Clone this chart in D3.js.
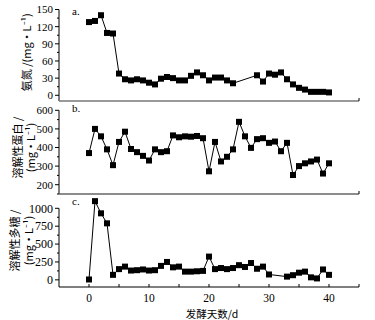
<!DOCTYPE html>
<html>
<head>
<meta charset="utf-8">
<script src="https://cdn.jsdelivr.net/npm/d3@7"></script>
<style>
  body { margin: 0; background: #fff; }
  svg { display: block; }
  text { font-family: "Liberation Serif", "DejaVu Serif", serif; fill: #000; }
  .cjk { font-family: "Noto Sans CJK SC", sans-serif; }
</style>
</head>
<body>
<script>
// fermentation days for each series (gaps = days not sampled)
const daysA = [0,1,2,3,4,5,6,7,8,9,10,11,12,13,14,15,16,17,18,19,20,21,22,23,24,28,29,30,31,32,33,34,35,36,37,38,39,40];
const ammonia = [128,130,140,109,108,38,28,26,28,26,22,19,29,32,30,26,26,34,40,35,26,31,31,26,21,35,24,38,36,40,28,19,13,10,6,6,6,5];

const daysB = d3.range(0, 41);
const protein = [370,500,460,390,305,430,485,392,375,355,330,390,375,380,465,455,460,458,462,450,272,430,325,350,390,538,460,398,445,450,425,432,380,425,252,300,315,325,335,260,315];

const daysC = [0,1,2,3,4,5,6,7,8,9,10,11,12,13,14,15,16,17,18,19,20,21,22,23,24,25,26,27,28,29,30,33,34,35,36,37,38,39,40];
const sugar = [5,1100,930,790,70,150,185,130,135,145,130,135,195,250,175,185,115,115,120,125,325,150,165,150,165,205,180,235,155,185,75,45,65,100,115,35,20,145,70];

const xTicks = [0,10,20,30,40];
const ticksA = [0,30,60,90,120,150];
const ticksB = [200,300,400,500,600];
const ticksC = [0,250,500,750,1000];

const W = 375, H = 320;
const left = 59, right = 359;

const svg = d3.select("body").append("svg").attr("width", W).attr("height", H);

const x = d3.scaleLinear().domain([-5, 45]).range([left, right]);

const panels = [
  { days: daysA, vals: ammonia, domain: [-10, 150], top: 9.5, bottom: 101, ticks: ticksA, minor: 15,
    letter: "a.", title: ["氨氮 /(mg·L\u207B\u00B9)"], titleX: [27], fs: 11, base: "#777" },
  { days: daysB, vals: protein, domain: [150, 650], top: 101, bottom: 194, ticks: ticksB, minor: 50,
    letter: "b.", title: ["溶解性蛋白 /", "(mg·L\u207B\u00B9)"], titleX: [18, 31], fs: 11, base: "#666" },
  { days: daysC, vals: sugar, domain: [-100, 1200], top: 194, bottom: 287, ticks: ticksC, minor: 125,
    letter: "c.", title: ["溶解性多糖 /", "(mg·L\u207B\u00B9)"], titleX: [15, 29], fs: 12, base: "#000" }
];

panels.forEach((p, k) => {
  const y = d3.scaleLinear().domain(p.domain).range([p.bottom, p.top]);
  const g = svg.append("g");

  // left axis with outside ticks
  g.append("line").attr("x1", left).attr("x2", left).attr("y1", y(p.ticks[p.ticks.length - 1])).attr("y2", p.bottom)
    .attr("stroke", "#000").attr("stroke-width", 1);
  const minors = d3.range(p.ticks[0] - p.minor, p.ticks[p.ticks.length - 1] + 0.1, p.minor)
    .filter(v => v >= p.domain[0] && !p.ticks.includes(v));
  g.selectAll(".minor").data(minors).join("line")
    .attr("x1", left - 2).attr("x2", left).attr("y1", d => y(d)).attr("y2", d => y(d))
    .attr("stroke", "#000");
  g.selectAll(".major").data(p.ticks).join("line")
    .attr("x1", left - 4).attr("x2", left).attr("y1", d => y(d)).attr("y2", d => y(d))
    .attr("stroke", "#000");
  g.selectAll(".ylab").data(p.ticks).join("text")
    .attr("x", left - 6).attr("y", d => y(d)).attr("dy", "0.35em")
    .attr("text-anchor", "end").attr("font-size", p.fs).text(d => d);

  // bottom baseline with tick at right end
  g.append("line").attr("x1", left).attr("x2", right).attr("y1", p.bottom).attr("y2", p.bottom)
    .attr("stroke", p.base).attr("stroke-width", k < 2 ? 1.5 : 1);
  g.append("line").attr("x1", right).attr("x2", right).attr("y1", p.bottom).attr("y2", p.bottom - 3)
    .attr("stroke", "#000");

  // panel letter
  g.append("text").attr("x", 72).attr("y", p.top + (k === 0 ? 5 : 11)).attr("font-size", 11).text(p.letter);

  // y title
  const cy = (p.top + p.bottom) / 2 + (k === 0 ? -3 : 0);
  p.title.forEach((t, i) => {
    g.append("text").attr("class", "cjk")
      .attr("transform", `translate(${p.titleX[i]},${cy}) rotate(-90)`)
      .attr("text-anchor", "middle").attr("dy", "0.35em").attr("font-size", 11).text(t);
  });

  // series
  const pts = p.days.map((d, i) => [d, p.vals[i]]);
  g.append("path").datum(pts)
    .attr("fill", "none").attr("stroke", "#000").attr("stroke-width", 1)
    .attr("d", d3.line().x(d => x(d[0])).y(d => y(d[1])));
  g.selectAll(".pt").data(pts).join("rect")
    .attr("x", d => x(d[0]) - 3).attr("y", d => y(d[1]) - 3)
    .attr("width", 6).attr("height", 6).attr("fill", "#000");
});

// x axis ticks (inside) and labels under panel c
const xb = panels[2].bottom;
svg.append("g").selectAll("line").data(d3.range(0, 45, 5)).join("line")
  .attr("x1", d => x(d)).attr("x2", d => x(d)).attr("y1", xb).attr("y2", xb - 3)
  .attr("stroke", "#000");
svg.append("g").selectAll("text").data(xTicks).join("text")
  .attr("x", d => x(d)).attr("y", 302).attr("text-anchor", "middle").attr("font-size", 11.5).text(d => d);

svg.append("text").attr("class", "cjk").attr("x", 212).attr("y", 318)
  .attr("text-anchor", "middle").attr("font-size", 10.5).text("发酵天数/d");
</script>
</body>
</html>
